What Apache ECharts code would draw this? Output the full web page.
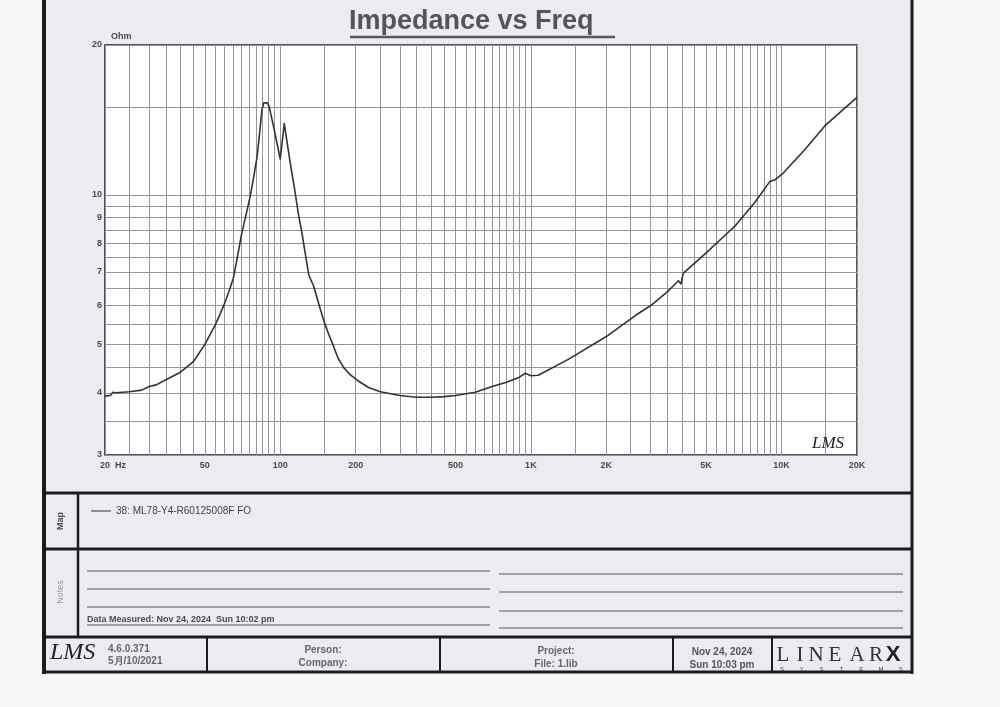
<!DOCTYPE html>
<html><head><meta charset="utf-8">
<script src="https://cdn.jsdelivr.net/npm/echarts@6/dist/echarts.min.js"></script>
<style>html,body{margin:0;padding:0;background:#f7f7f9}#c{width:1000px;height:707px}</style>
</head><body><div id="c"></div>
<script>
// ---- data ----
const freqHz = [20,21,21.5,22,25,28,30,32,35,40,45,50,55,57.5,60,62.5,65,67.5,70,73,76,78.5,81,83,84.5,86,87.5,89,90.5,95,100,103.8,109.6,114,118,122,126,130,136,143,149,156,163,170,179,190,203,225,251,300,350,400,450,500,600,700,800,900,950,1000,1070,1410,2000,2610,3050,3500,3880,3970,4050,4940,6120,6540,7830,8990,9410,10160,12400,14900,20000];
const impedanceOhm = [3.94,3.95,4.01,4.0,4.02,4.05,4.12,4.15,4.25,4.4,4.62,5.0,5.47,5.75,6.05,6.4,6.8,7.5,8.3,9.1,9.95,10.9,12.0,13.5,14.8,15.3,15.4,15.3,15.0,13.4,11.8,13.9,11.6,10.3,9.2,8.4,7.6,6.9,6.55,6.0,5.6,5.25,4.97,4.7,4.5,4.35,4.24,4.1,4.02,3.95,3.92,3.92,3.93,3.95,4.01,4.12,4.2,4.3,4.38,4.33,4.34,4.67,5.19,5.72,6.02,6.38,6.72,6.62,6.95,7.6,8.4,8.67,9.66,10.64,10.72,11.06,12.33,13.77,15.7];
const seriesName = '38: ML78-Y4-R60125008F FO';
const xTickValues = [20,50,100,200,500,1000,2000,5000,10000,20000];
const xTickLabels = ['20  Hz','50','100','200','500','1K','2K','5K','10K','20K'];
const yTickValues = [3,4,5,6,7,8,9,10,20];
const yTickLabels = ['3','4','5','6','7','8','9','10','20'];
const xGridMultipliers = [1,1.5,2,2.5,3,3.5,4,4.5,5,5.5,6,6.5,7,7.5,8,8.5,9,9.5];
const xGridDecades = [10,100,1000,10000];
const yGridValues = [3,3.5,4,4.5,5,5.5,6,6.5,7,7.5,8,8.5,9,9.5,10,15,20];

const xGridValues = [];
xGridDecades.forEach(d => xGridMultipliers.forEach(m => { const v = d*m; if (v >= 20 && v <= 20000) xGridValues.push(v); }));
if (xGridValues.indexOf(20000) < 0) xGridValues.push(20000);

const FONT = '"Liberation Sans", Arial, sans-serif';
const TXT = '#4a4a4a';

const gridLine = { color: '#959595', width: 1, type: 'solid' };
const gridMarkData = xGridValues.map(v => ({ xAxis: v }))
  .concat(yGridValues.map(v => ({ yAxis: v })));

const labelMarkData = xTickValues.map((v, i) => ({
  xAxis: v,
  label: { formatter: xTickLabels[i], position: 'start', distance: 6,
           padding: i === 0 ? [0,0,0,16] : 0 }
})).concat(yTickValues.map((v, i) => ({
  yAxis: v,
  label: { formatter: yTickLabels[i], position: 'start', distance: 3 }
})));

const chart = echarts.init(document.getElementById('c'), null, { renderer: 'canvas' });

const L = (x1, y1, x2, y2, w, c) => ({ type: 'line', silent: true, z: 50,
  shape: { x1, y1, x2, y2 }, style: { stroke: c || '#1c1c1c', lineWidth: w } });
const T = (x, y, text, o, extra) => Object.assign({ type: 'text', silent: true, z: 50, x, y,
  style: Object.assign({ text, font: 'bold 10px ' + FONT, fill: TXT,
    textAlign: 'left', textVerticalAlign: 'middle' }, o || {}) }, extra || {});

const linear = ['L','I','N','E','A','R'];
const linearX = [783,800,816,835,857,876];
const systems = ['S','Y','S','T','E','M','S'];

const graphics = [
  { type: 'rect', silent: true, z: -100, shape: { x: 44, y: 0, width: 868, height: 672 }, style: { fill: '#eaecf1' } },
  L(44, 0, 44, 674, 4), L(912, 0, 912, 674, 3),
  L(44, 493, 912, 493, 3), L(44, 549, 912, 549, 3), L(44, 637, 912, 637, 3), L(44, 672, 912, 672, 3),
  L(78, 493, 78, 637, 2.5),
  L(207, 637, 207, 672, 2), L(440, 637, 440, 672, 2), L(673, 637, 673, 672, 2), L(772, 637, 772, 672, 2),
  L(87, 571, 490, 571, 1, '#555'), L(87, 589, 490, 589, 1, '#555'), L(87, 607, 490, 607, 1, '#555'), L(87, 625, 490, 625, 1, '#555'),
  L(499, 574, 903, 574, 1, '#555'), L(499, 592, 903, 592, 1, '#555'), L(499, 611, 903, 611, 1, '#555'), L(499, 628, 903, 628, 1, '#555'),
  L(350, 37, 615, 37, 2.5, '#5a5a5a'),
  T(61, 521, 'Map', { textAlign: 'center', font: 'bold 9px ' + FONT }, { rotation: Math.PI / 2 }),
  T(61, 592, 'Notes', { textAlign: 'center', font: '9px ' + FONT, fill: '#9a9a9a' }, { rotation: Math.PI / 2 }),
  T(87, 624, 'Data Measured: Nov 24, 2024  Sun 10:02 pm', { font: 'bold 9px ' + FONT, textVerticalAlign: 'bottom' }),
  T(108, 649, '4.6.0.371', { font: 'bold 10px ' + FONT, fill: '#666' }),
  T(108, 661, '5月/10/2021', { font: 'bold 10px ' + FONT, fill: '#666' }),
  T(50, 653, 'LMS', { font: 'italic 24px "Liberation Serif", serif', fill: '#222' }),
  T(323, 650, 'Person:', { textAlign: 'center', fill: '#666' }),
  T(323, 663, 'Company:', { textAlign: 'center', fill: '#666' }),
  T(556, 651, 'Project:', { textAlign: 'center', fill: '#666' }),
  T(556, 664, 'File: 1.lib', { textAlign: 'center', fill: '#666' }),
  T(722, 652, 'Nov 24, 2024', { textAlign: 'center', fill: '#555' }),
  T(722, 665, 'Sun 10:03 pm', { textAlign: 'center', fill: '#555' }),
  T(893, 655, 'X', { textAlign: 'center', font: 'bold 22px ' + FONT, fill: '#222' }),
  T(828, 444, 'LMS', { textAlign: 'center', font: 'italic 17px "Liberation Serif", serif', fill: '#222' })
];
linear.forEach((ch, i) => graphics.push(T(linearX[i], 655, ch, { textAlign: 'center', font: '21px "Liberation Serif", serif', fill: '#333' })));
systems.forEach((ch, i) => graphics.push(T(782 + i * 19.8, 669, ch, { textAlign: 'center', font: '6px ' + FONT, fill: '#444' })));

chart.setOption({
  animation: false,
  backgroundColor: '#f7f7f9',
  textStyle: { fontFamily: FONT },
  title: {
    text: 'Impedance vs Freq', left: 349, top: 8, padding: 0,
    textStyle: { fontSize: 27, fontWeight: 'bold', color: '#555', fontFamily: FONT }
  },
  legend: {
    left: 86, top: 501, itemWidth: 20, itemHeight: 1, itemGap: 4, icon: 'rect',
    data: [seriesName],
    textStyle: { fontSize: 10, color: '#444', fontFamily: FONT }
  },
  grid: { left: 105, top: 45, width: 752, height: 410, show: true,
          backgroundColor: '#ffffff', borderColor: '#1c1c1c', borderWidth: 1.5, containLabel: false },
  xAxis: { type: 'log', logBase: 10, min: 20, max: 20000,
           axisLine: { show: false }, axisTick: { show: false }, axisLabel: { show: false },
           splitLine: { show: false }, minorSplitLine: { show: false } },
  yAxis: { type: 'log', logBase: 10, min: 3, max: 20,
           name: 'Ohm', nameLocation: 'end', nameGap: 4,
           nameTextStyle: { fontSize: 9, fontWeight: 'bold', color: TXT, align: 'left', padding: [0, 0, 0, 6] },
           axisLine: { show: false }, axisTick: { show: false }, axisLabel: { show: false },
           splitLine: { show: false } },
  graphic: graphics,
  series: [
    { name: 'grid', type: 'line', data: [], silent: true, z: 1,
      markLine: { silent: true, symbol: 'none', animation: false,
                  lineStyle: gridLine, label: { show: false }, data: gridMarkData } },
    { name: 'ticks', type: 'line', data: [], silent: true, z: 1,
      markLine: { silent: true, symbol: 'none', animation: false,
                  lineStyle: { color: 'rgba(0,0,0,0)', width: 1 },
                  label: { show: true, color: TXT, fontSize: 9, fontWeight: 'bold', fontFamily: FONT },
                  emphasis: { disabled: true },
                  data: labelMarkData } },
    { name: seriesName, type: 'line', z: 5, showSymbol: false, smooth: false,
      data: freqHz.map((f, i) => [f, impedanceOhm[i]]),
      lineStyle: { color: '#333333', width: 1.6, join: 'round' }, itemStyle: { color: '#333333' } }
  ]
});
</script></body></html>
